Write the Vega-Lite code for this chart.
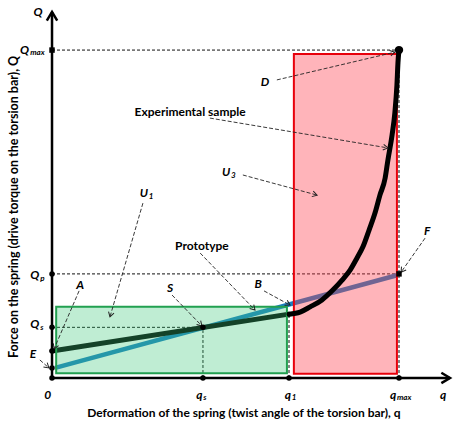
{
  "$schema": "https://vega.github.io/schema/vega-lite/v6.json",
  "width": 453,
  "height": 428,
  "padding": 0,
  "autosize": {"type": "none"},
  "background": "white",
  "config": {"view": {"stroke": null}},
  "datasets": {
    "refs": [
      {"x": 0, "y": 94.5, "x2": 100, "y2": 94.5},
      {"x": 0, "y": 30, "x2": 100, "y2": 30},
      {"x": 0, "y": 14.6, "x2": 43.5, "y2": 14.6},
      {"x": 43.5, "y": 0, "x2": 43.5, "y2": 14.6},
      {"x": 68.3, "y": 0, "x2": 68.3, "y2": 18.4},
      {"x": 100, "y": 0, "x2": 100, "y2": 94.5}
    ],
    "blue": [
      {"q": 0.9, "Q": 2.9},
      {"q": 99.4, "Q": 29.6}
    ],
    "blackLin": [
      {"q": 0, "Q": 7.8},
      {"q": 68.3, "Q": 18.4}
    ],
    "blackCurve": [
      {"q": 68.3, "Q": 18.4},
      {"q": 71.5, "Q": 19.0},
      {"q": 74.4, "Q": 20.5},
      {"q": 77.8, "Q": 22.5},
      {"q": 81.0, "Q": 25.4},
      {"q": 83.6, "Q": 28.2},
      {"q": 85.9, "Q": 31.1},
      {"q": 87.9, "Q": 34.6},
      {"q": 89.6, "Q": 37.8},
      {"q": 91.4, "Q": 42.7},
      {"q": 93.1, "Q": 47.6},
      {"q": 94.5, "Q": 52.7},
      {"q": 96.0, "Q": 57.6},
      {"q": 96.8, "Q": 62.8},
      {"q": 98.0, "Q": 70.0},
      {"q": 98.8, "Q": 76.4},
      {"q": 99.4, "Q": 84.4},
      {"q": 99.7, "Q": 90.8},
      {"q": 100, "Q": 94.5}
    ],
    "green": [{"x": 1.2, "x2": 67.7, "y": 1.4, "y2": 20.5}],
    "red": [{"x": 69.7, "x2": 99.4, "y": 1.2, "y2": 93.4}],
    "axes": [
      {"x": 0, "y": 0, "x2": 0, "y2": 105.5},
      {"x": 0, "y": 0, "x2": 114.7, "y2": 0}
    ],
    "arrows": [
      {"x": 64.8, "y": 85.9, "x2": 98.8, "y2": 93.9},
      {"x": 45.5, "y": 74.9, "x2": 96.8, "y2": 66.3},
      {"x": 55.0, "y": 58.5, "x2": 76.4, "y2": 52.7},
      {"x": 26.2, "y": 50.4, "x2": 16.7, "y2": 17.6},
      {"x": 42.7, "y": 36.0, "x2": 58.5, "y2": 19.6},
      {"x": 34.6, "y": 23.9, "x2": 43.2, "y2": 15.0},
      {"x": 61.1, "y": 25.1, "x2": 68.6, "y2": 21.0},
      {"x": 7.8, "y": 25.1, "x2": 0.6, "y2": 8.4},
      {"x": -3.5, "y": 5.2, "x2": -0.9, "y2": 2.9},
      {"x": 107.5, "y": 40.3, "x2": 100.6, "y2": 30.5}
    ],
    "dots": [
      {"q": 0, "Q": 0},
      {"q": 0, "Q": 14.6},
      {"q": 0, "Q": 7.8},
      {"q": 0, "Q": 2.9},
      {"q": 0, "Q": 30},
      {"q": 43.5, "Q": 0},
      {"q": 68.3, "Q": 0},
      {"q": 100, "Q": 0},
      {"q": 43.5, "Q": 14.6}
    ],
    "squares": [
      {"q": 0, "Q": 94.5},
      {"q": 100, "Q": 30}
    ],
    "top": [{"q": 100, "Q": 94.5}],
    "labels": [
      {"q": -4.0, "Q": 105.5, "t": "Q"},
      {"q": -5.5, "Q": 6.9, "t": "E"},
      {"q": 8.1, "Q": 26.8, "t": "A"},
      {"q": -1.2, "Q": -4.9, "t": "0"},
      {"q": 112.7, "Q": -4.9, "t": "q"},
      {"q": 61.4, "Q": 85.3, "t": "D"},
      {"q": 34.0, "Q": 25.9, "t": "S"},
      {"q": 59.4, "Q": 27.1, "t": "B"},
      {"q": 108.1, "Q": 42.4, "t": "F"}
    ],
    "bases": [
      {"q": -9.2, "Q": 94.5, "t": "Q"},
      {"q": -6.3, "Q": 29.7, "t": "Q"},
      {"q": -6.3, "Q": 15.6, "t": "Q"},
      {"q": 41.6, "Q": -4.9, "t": "q"},
      {"q": 67.1, "Q": -4.9, "t": "q"},
      {"q": 97.4, "Q": -4.9, "t": "q"},
      {"q": 49.0, "Q": 59.4, "t": "U"},
      {"q": 25.3, "Q": 53.3, "t": "U"}
    ],
    "subs": [
      {"q": -6.3, "Q": 93.6, "t": "max"},
      {"q": -3.4, "Q": 28.6, "t": "p"},
      {"q": -3.4, "Q": 14.5, "t": "s"},
      {"q": 43.6, "Q": -5.9, "t": "s"},
      {"q": 69.1, "Q": -5.9, "t": "1"},
      {"q": 99.4, "Q": -5.9, "t": "max"},
      {"q": 51.6, "Q": 58.3, "t": "3"},
      {"q": 27.9, "Q": 52.2, "t": "1"}
    ],
    "words": [
      {"q": 39.8, "Q": 76.7, "t": "Experimental sample"},
      {"q": 43.2, "Q": 38.0, "t": "Prototype"}
    ],
    "xtitle": [{"q": 55.3, "Q": -10.1, "t": "Deformation of the spring (twist angle of the torsion bar), q"}],
    "ytitle": [{"q": -10.95, "Q": 49.3, "t": "Force on the spring (drive torque on the torsion bar), Q"}]
  },
  "encoding": {
    "x": {"field": "q", "type": "quantitative", "scale": {"domain": [-14.99, 115.56], "nice": false, "zero": false}, "axis": null},
    "y": {"field": "Q", "type": "quantitative", "scale": {"domain": [-14.41, 108.93], "nice": false, "zero": false}, "axis": null}
  },
  "layer": [
    {
      "data": {"name": "refs"},
      "mark": {"type": "rule", "color": "#111", "strokeWidth": 1, "strokeDash": [3, 2]},
      "encoding": {
        "x": {"field": "x", "type": "quantitative"},
        "y": {"field": "y", "type": "quantitative"},
        "x2": {"field": "x2"},
        "y2": {"field": "y2"}
      }
    },
    {
      "data": {"name": "blue"},
      "mark": {"type": "line", "color": "#1a7fc0", "strokeWidth": 4.5, "strokeCap": "butt"},
      "encoding": {}
    },
    {
      "data": {"name": "blackLin"},
      "mark": {"type": "line", "color": "#000", "strokeWidth": 5, "strokeCap": "round"},
      "encoding": {}
    },
    {
      "data": {"name": "green"},
      "mark": {"type": "rect", "fill": "#3cc878", "fillOpacity": 0.33, "stroke": "#22a050", "strokeWidth": 2},
      "encoding": {
        "x": {"field": "x", "type": "quantitative"},
        "x2": {"field": "x2"},
        "y": {"field": "y", "type": "quantitative"},
        "y2": {"field": "y2"}
      }
    },
    {
      "data": {"name": "red"},
      "mark": {"type": "rect", "fill": "#ff3b4a", "fillOpacity": 0.38, "stroke": "#e8000b", "strokeWidth": 2},
      "encoding": {
        "x": {"field": "x", "type": "quantitative"},
        "x2": {"field": "x2"},
        "y": {"field": "y", "type": "quantitative"},
        "y2": {"field": "y2"}
      }
    },
    {
      "data": {"name": "blackCurve"},
      "mark": {"type": "line", "color": "#000", "strokeWidth": 5, "strokeCap": "round", "interpolate": "monotone"},
      "encoding": {}
    },
    {
      "data": {"name": "axes"},
      "mark": {"type": "rule", "color": "#000", "strokeWidth": 2.5},
      "encoding": {
        "x": {"field": "x", "type": "quantitative"},
        "y": {"field": "y", "type": "quantitative"},
        "x2": {"field": "x2"},
        "y2": {"field": "y2"}
      }
    },
    {
      "data": {"name": "axes"},
      "transform": [{"calculate": "atan2(datum.x2 - datum.x, datum.y2 - datum.y) * 180 / PI", "as": "ang"}],
      "mark": {"type": "point", "shape": "M-0.6,1L0,0L0.6,1", "filled": false, "stroke": "#000", "strokeWidth": 2.5, "size": 300, "opacity": 1},
      "encoding": {
        "x": {"field": "x2", "type": "quantitative"},
        "y": {"field": "y2", "type": "quantitative"},
        "angle": {"field": "ang", "type": "quantitative", "scale": null}
      }
    },
    {
      "data": {"name": "arrows"},
      "mark": {"type": "rule", "color": "#222", "strokeWidth": 0.9, "strokeDash": [4, 2]},
      "encoding": {
        "x": {"field": "x", "type": "quantitative"},
        "y": {"field": "y", "type": "quantitative"},
        "x2": {"field": "x2"},
        "y2": {"field": "y2"}
      }
    },
    {
      "data": {"name": "arrows"},
      "transform": [{"calculate": "atan2(datum.x2 - datum.x, datum.y2 - datum.y) * 180 / PI", "as": "ang"}],
      "mark": {"type": "point", "shape": "M-0.6,1L0,0L0.6,1", "filled": false, "stroke": "#222", "strokeWidth": 1, "size": 90, "opacity": 1},
      "encoding": {
        "x": {"field": "x2", "type": "quantitative"},
        "y": {"field": "y2", "type": "quantitative"},
        "angle": {"field": "ang", "type": "quantitative", "scale": null}
      }
    },
    {
      "data": {"name": "dots"},
      "mark": {"type": "circle", "color": "#000", "size": 30, "opacity": 1},
      "encoding": {}
    },
    {
      "data": {"name": "squares"},
      "mark": {"type": "square", "color": "#000", "size": 30, "opacity": 1},
      "encoding": {}
    },
    {
      "data": {"name": "top"},
      "mark": {"type": "circle", "color": "#000", "size": 70, "opacity": 1},
      "encoding": {}
    },
    {
      "data": {"name": "labels"},
      "mark": {"type": "text", "font": "Lato", "fontSize": 12, "fontWeight": "bold", "fontStyle": "italic", "color": "#000", "align": "center", "baseline": "middle"},
      "encoding": {"text": {"field": "t"}}
    },
    {
      "data": {"name": "bases"},
      "mark": {"type": "text", "font": "Lato", "fontSize": 12, "fontWeight": "bold", "fontStyle": "italic", "color": "#000", "align": "left", "baseline": "middle"},
      "encoding": {"text": {"field": "t"}}
    },
    {
      "data": {"name": "subs"},
      "mark": {"type": "text", "font": "Lato", "fontSize": 8, "fontWeight": "bold", "fontStyle": "italic", "color": "#000", "align": "left", "baseline": "middle"},
      "encoding": {"text": {"field": "t"}}
    },
    {
      "data": {"name": "words"},
      "mark": {"type": "text", "font": "Lato", "fontSize": 12, "fontWeight": "bold", "color": "#000", "align": "center", "baseline": "middle"},
      "encoding": {"text": {"field": "t"}}
    },
    {
      "data": {"name": "xtitle"},
      "mark": {"type": "text", "font": "Lato", "fontSize": 12, "fontWeight": "bold", "color": "#000", "align": "center", "baseline": "middle"},
      "encoding": {"text": {"field": "t"}}
    },
    {
      "data": {"name": "ytitle"},
      "mark": {"type": "text", "font": "Lato", "fontSize": 12.5, "fontWeight": "bold", "color": "#000", "align": "center", "baseline": "middle", "angle": 270},
      "encoding": {"text": {"field": "t"}}
    }
  ]
}
